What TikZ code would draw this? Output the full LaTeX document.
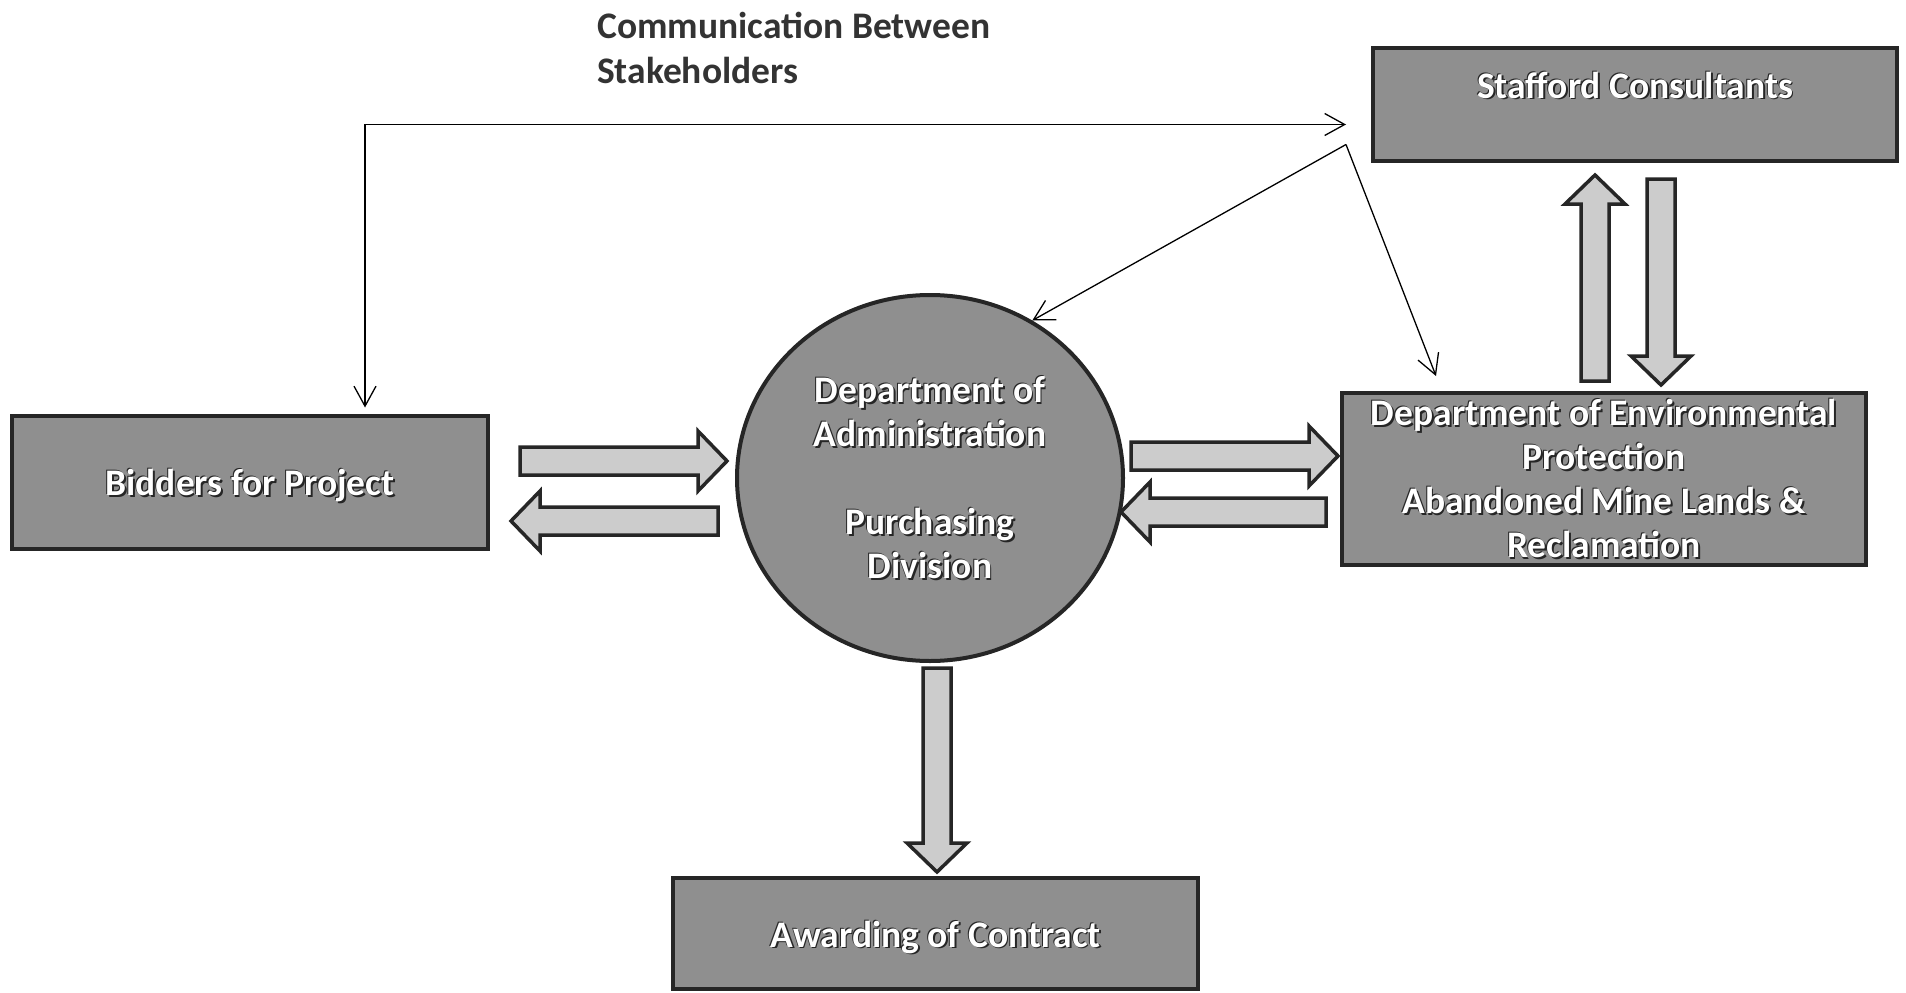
\documentclass[tikz,border=0pt]{standalone}
\usepackage{fontspec}
\setmainfont{Carlito}
\usetikzlibrary{shapes.geometric,calc,arrows.meta}

\definecolor{boxgray}{gray}{0.56}
\definecolor{arrowgray}{gray}{0.80}
\definecolor{edge}{gray}{0.15}
\definecolor{titlegray}{gray}{0.2}

\newcommand\boxfont{\fontsize{37.5}{44}\selectfont\bfseries}
\newcommand\shtext[1]{\leavevmode
  \rlap{\kern1.8pt\raisebox{-1.8pt}{\textcolor{edge}{#1}}}%
  \rlap{\kern-1pt\raisebox{1pt}{\textcolor{edge}{#1}}}%
  #1}
\newcommand\fatarrow[2]{%
  \draw[fat] let \p1=(#1), \p2=(#2), \n1={atan2(\y2-\y1,\x2-\x1)},
    \n2={veclen(\x2-\x1,\y2-\y1)-29pt} in
    ($(\p1)+(\n1+90:14pt)$) -- ($(\p1)+(\n1:\n2)+(\n1+90:14pt)$)
    -- ($(\p1)+(\n1:\n2)+(\n1+90:30pt)$) -- (\p2)
    -- ($(\p1)+(\n1:\n2)+(\n1-90:30pt)$) -- ($(\p1)+(\n1:\n2)+(\n1-90:14pt)$)
    -- ($(\p1)+(\n1-90:14pt)$) -- cycle;}

\tikzset{
  box/.style={draw=edge, line width=4pt, fill=boxgray, text=white,
    font=\boxfont, align=center, inner sep=0pt},
  hub/.style={box, ellipse},
  fat/.style={draw=edge, line width=3.5pt, fill=arrowgray, line join=miter},
  comm/.style={draw=black, line width=1.3pt,
    arrows={Straight Barb[length=20pt,width=22pt,line width=1.3pt]-Straight Barb[length=20pt,width=22pt,line width=1.3pt]}},
  commto/.style={draw=black, line width=1.3pt,
    -{Straight Barb[length=20pt,width=22pt,line width=1.3pt]}},
  heading/.style={text=titlegray, font=\fontsize{37.5}{45}\selectfont\bfseries,
    align=left, inner sep=0pt}
}

\begin{document}
\begin{tikzpicture}[x=1pt,y=-1pt]
  \useasboundingbox (0,0) rectangle (1906,993);

  \node [heading, anchor=north west] (title) at (597,12)
    {Communication Between\\Stakeholders};

  \node [box, minimum width=476pt, minimum height=133pt, text depth=0pt] (bidders) at (250,482)
    {\shtext{Bidders for Project}};
  \node [hub, minimum width=386pt, minimum height=366pt] (admin) at (930,478)
    {\shtext{Department of}\\\shtext{Administration}\\[44pt]\shtext{Purchasing}\\\shtext{Division}};
  \node [box, minimum width=524pt, minimum height=172pt] (dep) at (1604,479)
    {\shtext{Department of Environmental}\\\shtext{Protection}\\
     \shtext{Abandoned Mine Lands \&}\\\shtext{Reclamation}};
  \node [box, minimum width=524pt, minimum height=113pt, text depth=40pt] (stafford) at (1635,104.5)
    {\shtext{Stafford Consultants}};
  \node [box, minimum width=525pt, minimum height=111pt, text depth=0pt] (award) at (935.5,933.5)
    {\shtext{Awarding of Contract}};

  \coordinate (toSC) at ($(stafford.west)+(-25,20)$);
  \coordinate (fork) at ($(stafford.west)+(-25,40)$);
  \coordinate (toBid) at ($(bidders.north)+(115,-6)$);
  \coordinate (toDEP) at ($(dep.north west)+(96,-15)$);

  \draw [comm] (toSC) -| (toBid);
  \draw [commto] (fork) -- (admin.57);
  \draw [commto] (fork) -- (toDEP);

  \fatarrow{$(bidders.east)+(30,-21)$}{$(admin.west)+(-8,-17)$}
  \fatarrow{$(admin.west)+(-17,43)$}{$(bidders.east)+(21,39)$}
  \fatarrow{$(admin.east)+(6,-22)$}{$(dep.west)+(-2,-23)$}
  \fatarrow{$(dep.west)+(-14,33)$}{$(admin.east)+(-4,34)$}
  \fatarrow{$(dep.north)+(-9,-10)$}{$(stafford.south)+(-40,12)$}
  \fatarrow{$(stafford.south)+(26,16)$}{$(dep.north)+(57,-6)$}
  \fatarrow{$(admin.south)+(7,5)$}{$(award.north)+(1.5,-4)$}
\end{tikzpicture}
\end{document}
